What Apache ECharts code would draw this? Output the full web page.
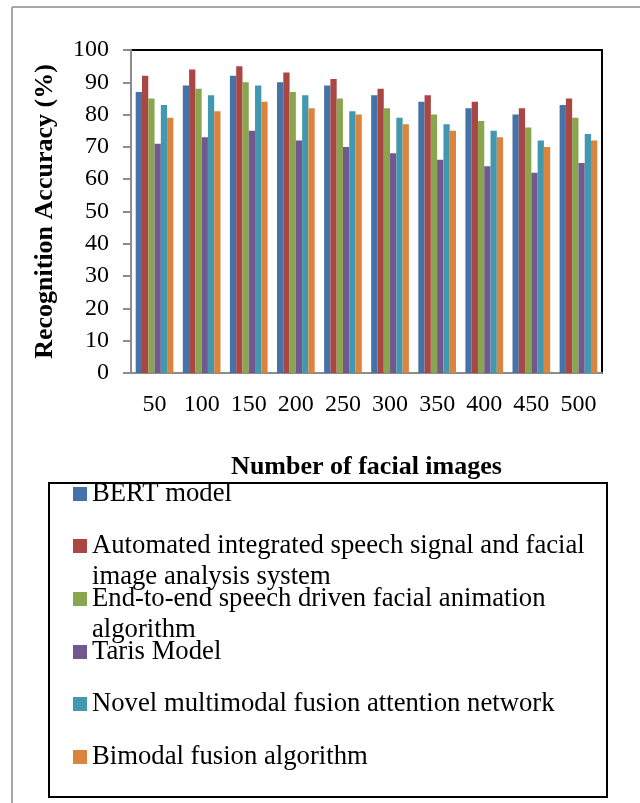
<!DOCTYPE html>
<html>
<head>
  <meta charset="utf-8">
  <title>Recognition Accuracy</title>
  <script src="https://cdn.jsdelivr.net/npm/echarts@6/dist/echarts.min.js"></script>
  <style>
    html, body { margin: 0; padding: 0; background: #fff; }
  </style>
</head>
<body>
  <div id="chart" style="width: 640px; height: 803px;"></div>

  <script>
    // data
    const categories = ['50', '100', '150', '200', '250', '300', '350', '400', '450', '500'];
    const seriesNames = [
      'BERT model',
      'Automated integrated speech signal and facial image analysis system',
      'End-to-end speech driven facial animation algorithm',
      'Taris Model',
      'Novel multimodal fusion attention network',
      'Bimodal fusion algorithm'
    ];
    const bert = [87, 89, 92, 90, 89, 86, 84, 82, 80, 83];
    const automated = [92, 94, 95, 93, 91, 88, 86, 84, 82, 85];
    const endToEnd = [85, 88, 90, 87, 85, 82, 80, 78, 76, 79];
    const taris = [71, 73, 75, 72, 70, 68, 66, 64, 62, 65];
    const novel = [83, 86, 89, 86, 81, 79, 77, 75, 72, 74];
    const bimodal = [79, 81, 84, 82, 80, 77, 75, 73, 70, 72];
    const yTicks = [0, 10, 20, 30, 40, 50, 60, 70, 80, 90, 100];

    const allValues = [bert, automated, endToEnd, taris, novel, bimodal];
    const colors = ['#4572A7', '#AA4643', '#89A54E', '#71588F', '#4198AF', '#DB843D'];
    // wrapped legend labels; leading blank line keeps the square level with line one
    const legendLabels = {
      'Automated integrated speech signal and facial image analysis system':
        ' \nAutomated integrated speech signal and facial\nimage analysis system',
      'End-to-end speech driven facial animation algorithm':
        ' \nEnd-to-end speech driven facial animation\nalgorithm'
    };
    const font = 'Liberation Serif';
    const axisGray = '#8c8c8c';

    // legend rows: centre of first line of each entry
    const legendCentres = [494, 546, 599, 652, 704, 757];
    const lineH = 31;

    const legends = seriesNames.map(function (name, i) {
      const wrapped = !!legendLabels[name];
      return {
        left: 73,
        top: legendCentres[i] - (wrapped ? lineH * 1.5 : lineH / 2),
        orient: 'vertical',
        padding: 0,
        itemWidth: 14,
        itemHeight: 14,
        icon: 'rect',
        selectedMode: false,
        data: [name],
        formatter: function (n) { return legendLabels[n] || n; },
        textStyle: { fontFamily: font, fontSize: 26.7, color: '#000', lineHeight: lineH }
      };
    });

    const chart = echarts.init(document.getElementById('chart'));
    chart.setOption({
      animation: false,
      color: colors,
      textStyle: { fontFamily: font },
      grid: {
        left: 131, right: 38, top: 50, bottom: 430,
        show: true, borderColor: '#000', borderWidth: 2
      },
      legend: legends,
      graphic: [
        // outer frame
        { type: 'line', shape: { x1: 12, y1: 7, x2: 640, y2: 7 }, style: { stroke: '#a6a6a6', lineWidth: 2 } },
        { type: 'line', shape: { x1: 12, y1: 7, x2: 12, y2: 803 }, style: { stroke: '#a6a6a6', lineWidth: 2 } },
        // legend box
        { type: 'rect', shape: { x: 49, y: 483, width: 558, height: 314 }, style: { fill: 'none', stroke: '#000', lineWidth: 2 }, z: 1 }
      ],
      xAxis: {
        type: 'category',
        data: categories,
        name: 'Number of facial images',
        nameLocation: 'middle',
        nameGap: 81,
        nameTextStyle: { fontFamily: font, fontSize: 26, fontWeight: 'bold', color: '#000' },
        axisLine: { lineStyle: { color: axisGray, width: 2 } },
        axisTick: { length: 7, lineStyle: { color: axisGray, width: 2 } },
        axisLabel: { margin: 20, fontFamily: font, fontSize: 24, color: '#000' }
      },
      yAxis: {
        type: 'value',
        min: yTicks[0],
        max: yTicks[yTicks.length - 1],
        interval: 10,
        name: 'Recognition Accuracy (%)',
        nameLocation: 'middle',
        nameGap: 73,
        nameTextStyle: { fontFamily: font, fontSize: 26, fontWeight: 'bold', color: '#000' },
        splitLine: { show: false },
        axisLine: { show: true, lineStyle: { color: axisGray, width: 2 } },
        axisTick: { show: true, length: 8, lineStyle: { color: axisGray, width: 2 } },
        axisLabel: { margin: 22, fontFamily: font, fontSize: 24, color: '#000' }
      },
      series: seriesNames.map(function (name, i) {
        return {
          name: name,
          type: 'bar',
          data: allValues[i],
          barGap: 0,
          barCategoryGap: '20%'
        };
      })
    });
  </script>
</body>
</html>
